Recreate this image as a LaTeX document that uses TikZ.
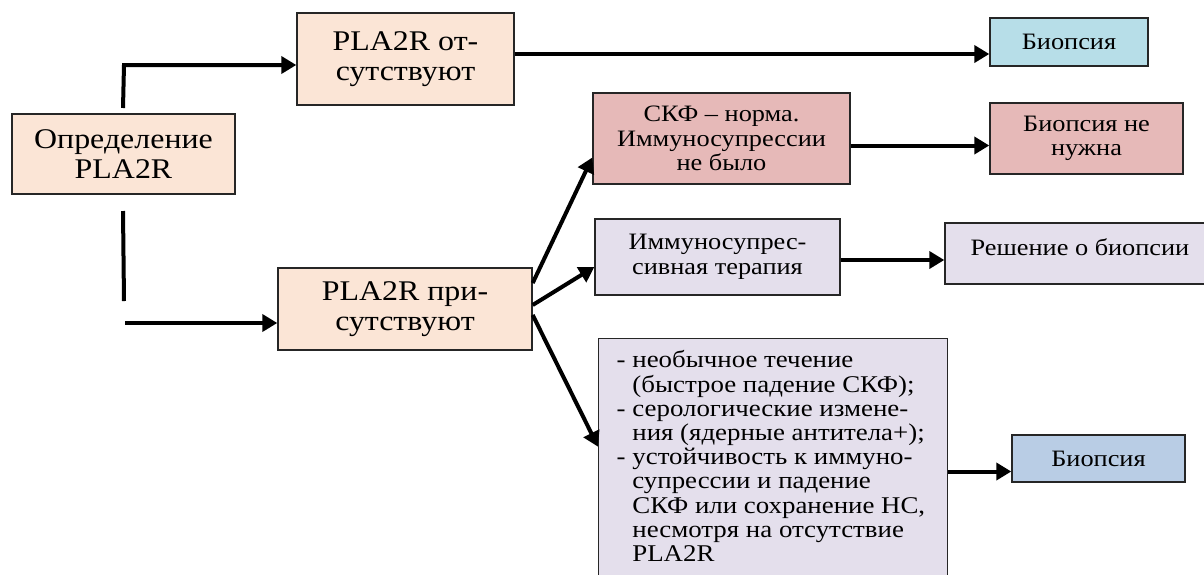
\documentclass[tikz,border=0pt]{standalone}
\usepackage{fontspec}
\setmainfont[FakeStretch=1.12]{Liberation Serif}
\usetikzlibrary{arrows.meta,positioning}
\definecolor{peach}{HTML}{FBE5D6}
\definecolor{sky}{HTML}{B7DEE8}
\definecolor{rose}{HTML}{E6B9B8}
\definecolor{lilac}{HTML}{E4DFEC}
\definecolor{steel}{HTML}{B9CDE5}
\tikzset{box/.style={draw=black!85,line width=1.4pt,align=center,inner sep=2pt,font=\fontsize{23.5}{24.5}\selectfont},bigtext/.style={font=\fontsize{28.5}{30}\selectfont},wire/.style={line width=4pt},link/.style={line width=4pt,line join=miter,-{Triangle[length=15pt,width=17pt]}}}

\begin{document}
\begin{tikzpicture}[x=1pt,y=-1pt]
  \useasboundingbox (0,0) rectangle (1204,574);
  % first column
  \node[box,bigtext,fill=peach,minimum width=223,minimum height=80] (def) at (123.5,154) {Определение\\PLA2R};
  \node[box,bigtext,fill=peach,minimum width=217,minimum height=92] (abs) at (405.5,59) {PLA2R от-\\сутствуют};
  \node[box,bigtext,fill=peach,minimum width=254,minimum height=82] (pres) at (405,309) {PLA2R при-\\сутствуют};
  % middle column
  \node[box,fill=rose,minimum width=257,minimum height=91] (gfr) at (721.5,138.5) {СКФ – норма.\\Иммуносупрессии\\не было};
  \node[box,fill=lilac,minimum width=245,minimum height=76] (imm) at (717.5,257) {Иммуносупрес-\\сивная терапия};
  \node[box,fill=lilac,anchor=north west,inner xsep=18pt,inner ysep=12pt] (big) at (598,338)
    {\parbox[t][250pt][t]{313pt}{\raggedright\fontsize{24}{24.2}\selectfont
      - необычное течение\\
      \phantom{- }(быстрое падение СКФ);\\
      - серологические измене-\\
      \phantom{- }ния (ядерные антитела+);\\
      - устойчивость к иммуно-\\
      \phantom{- }супрессии и падение\\
      \phantom{- }СКФ или сохранение НС,\\
      \phantom{- }несмотря на отсутствие\\
      \phantom{- }PLA2R}};
  % right column
  \node[box,fill=sky,minimum width=158,minimum height=48] (bxA) at (1069,42) {Биопсия};
  \node[box,fill=rose,minimum width=193,minimum height=71] (bxB) at (1086.5,138.5) {Биопсия не\\нужна};
  \node[box,fill=lilac,minimum width=270,minimum height=61,text height=17pt,text depth=14pt] (dec) at (1080,253.5) {Решение о биопсии};
  \node[box,fill=steel,minimum width=173,minimum height=47] (bxC) at (1098.5,458.5) {Биопсия};
  % connectors
  \coordinate (upA) at (123,108);
  \coordinate (upB) at (124,65);
  \draw[link] (upA) -- (upB) -- (upB -| abs.west);
  \coordinate (lowA) at (123,211);
  \coordinate (lowB) at (124,301);
  \draw[wire] (lowA) -- (lowB);
  \coordinate (lowC) at (125,323);
  \draw[link] (lowC) -- (lowC -| pres.west);
  \draw[link] ([yshift=5pt]abs.east) -- ([yshift=5pt]abs.east -| bxA.west);
  \draw[link] ([yshift=26pt]pres.east) -- ([yshift=-19pt]gfr.west);
  \draw[link] ([yshift=4pt]pres.east) -- ([yshift=-10pt]imm.west);
  \draw[link] ([yshift=-6pt]pres.east) -- ([yshift=29pt]big.west);
  \draw[link] ([yshift=-7pt]gfr.east) -- ([yshift=-7pt]gfr.east -| bxB.west);
  \draw[link] ([yshift=-3pt]imm.east) -- ([yshift=-3pt]imm.east -| dec.west);
  \draw[link] ([yshift=-13pt]bxC.west -| big.east) -- ([yshift=-13pt]bxC.west);
\end{tikzpicture}
\end{document}
